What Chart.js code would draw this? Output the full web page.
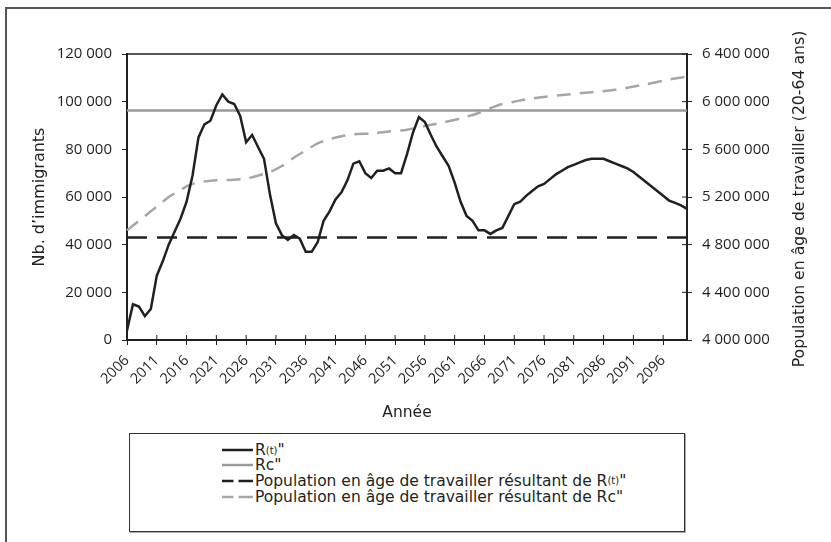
<!DOCTYPE html>
<html>
<head>
<meta charset="utf-8">
<script src="https://cdn.jsdelivr.net/npm/chart.js@4.4.1/dist/chart.umd.min.js"></script>
<style>
html, body { margin: 0; padding: 0; background: #fff; }
body { width: 831px; height: 542px; position: relative; overflow: hidden; font-family: "DejaVu Sans", sans-serif; color: #231f20; }
#frame { position: absolute; left: 5px; top: 7px; width: 840px; height: 560px; border-left: 2px solid #555; border-top: 2px solid #555; }
#wrap { position: absolute; left: 0; top: 0; width: 831px; height: 426px; }
#legend { position: absolute; left: 129px; top: 433px; width: 554px; height: 97px; border: 1.5px solid #333; box-shadow: 1px 1px 0 #aaa; background: #fff; }
.row { position: absolute; left: 92px; height: 16px; display: flex; align-items: center; font-size: 15.5px; white-space: nowrap; }
.row svg { margin-right: 2px; }
sub { font-size: 10px; vertical-align: -3px; }
</style>
</head>
<body>
<div id="frame"></div>
<div id="wrap"><canvas id="popChart"></canvas></div>
<div id="legend">
  <div class="row" style="top:8px"><svg width="31" height="4"><line x1="0" y1="2" x2="31" y2="2" stroke="#231f20" stroke-width="2.5"/></svg>R<sub>(t)</sub>"</div>
  <div class="row" style="top:23px"><svg width="31" height="4"><line x1="0" y1="2" x2="31" y2="2" stroke="#999" stroke-width="2.5"/></svg>Rc"</div>
  <div class="row" style="top:38.5px"><svg width="31" height="4"><line x1="0" y1="2" x2="11.5" y2="2" stroke="#231f20" stroke-width="2.5"/><line x1="16.5" y1="2" x2="31" y2="2" stroke="#231f20" stroke-width="2.5"/></svg>Population en âge de travailler résultant de R<sub>(t)</sub>"</div>
  <div class="row" style="top:55px"><svg width="31" height="4"><line x1="0" y1="2" x2="11.5" y2="2" stroke="#a6a6a6" stroke-width="2.5"/><line x1="16.5" y1="2" x2="31" y2="2" stroke="#a6a6a6" stroke-width="2.5"/></svg>Population en âge de travailler résultant de Rc"</div>
</div>
<script>
// years on the x axis (2006 - 2100)
var years = [];
for (var yr = 2006; yr <= 2100; yr++) years.push(String(yr));

// R(t)'' : immigrants needed each year (left axis)
var rtValues = [
  4000, 15000, 14000, 10000, 13000, 27000, 33000, 40000, 45500, 51000,
  58000, 69000, 85000, 90500, 92000, 98500, 103000, 100000, 99000, 94000,
  83000, 86000, 81000, 76000, 61000, 49000, 44000, 42000, 44000, 42500,
  37000, 37000, 41000, 50000, 54000, 59000, 62000, 67000, 74000, 75000,
  70000, 68000, 71000, 71000, 72000, 70000, 70000, 78000, 87000, 93500,
  91500, 86000, 81000, 77000, 73000, 66000, 58000, 52000, 50000, 46000,
  46000, 44500, 46000, 47000, 52000, 57000, 58000, 60500, 62500, 64500,
  65500, 67500, 69500, 71000, 72500, 73500, 74500, 75500, 76000, 76000,
  76000, 75000, 74000, 73000, 72000, 70500, 68500, 66500, 64500, 62500,
  60500, 58500, 57500, 56500, 55000
];

// Rc'' : constant level (left axis)
var rcLevel = 96300;

// working-age population resulting from R(t)'' : flat (right axis)
var popRtLevel = 4860000;

// working-age population resulting from Rc'' (right axis), read at these years
var popRcYears = ['2006','2007','2008','2009','2010','2011','2012','2013','2014','2015',
  '2016','2017','2018','2019','2021','2024','2026','2028','2030','2032',
  '2034','2036','2038','2040','2042','2044','2047','2050','2053','2056',
  '2059','2062','2065','2067','2069','2071','2073','2076','2080','2084',
  '2088','2092','2096','2098','2100'];
var popRcValues = [4920000, 4960000, 5000000, 5040000, 5080000, 5120000, 5160000, 5200000, 5230000, 5260000,
  5290000, 5310000, 5320000, 5330000, 5340000, 5345000, 5355000, 5380000, 5410000, 5460000,
  5530000, 5590000, 5650000, 5685000, 5710000, 5725000, 5735000, 5750000, 5765000, 5795000,
  5825000, 5860000, 5905000, 5945000, 5980000, 6000000, 6020000, 6040000, 6060000, 6080000,
  6100000, 6135000, 6175000, 6195000, 6210000];

var leftTicks = [0, 20000, 40000, 60000, 80000, 100000, 120000];
var rightTicks = [4000000, 4400000, 4800000, 5200000, 5600000, 6000000, 6400000];

function spaced(v) {
  return String(v).replace(/\B(?=(\d{3})+(?!\d))/g, ' ');
}

var tickFont = '"Open Sans", sans-serif';
var titleFont = '"DejaVu Sans", sans-serif';
Chart.defaults.font.family = tickFont;
Chart.defaults.color = '#231f20';

// top border of the plot, inner half of crossing ticks, right title
var frameLines = {
  id: 'frameLines',
  afterDraw: function (chart) {
    var ctx = chart.ctx, a = chart.chartArea, s = chart.scales;
    ctx.save();
    ctx.strokeStyle = '#231f20';
    ctx.lineWidth = 1.5;
    ctx.beginPath();
    ctx.moveTo(a.left, a.top);
    ctx.lineTo(a.right, a.top);
    ctx.stroke();
    ctx.lineWidth = 1;
    ctx.beginPath();
    s.x.ticks.forEach(function (t, i) {
      var px = s.x.getPixelForTick(i);
      ctx.moveTo(px, a.bottom);
      ctx.lineTo(px, a.bottom - 5);
    });
    s.y1.ticks.forEach(function (t, i) {
      var py = s.y1.getPixelForTick(i);
      ctx.moveTo(a.right, py);
      ctx.lineTo(a.right - 5, py);
    });
    ctx.stroke();
    // right axis title reads bottom to top
    ctx.translate(800, (a.top + a.bottom) / 2 + 2);
    ctx.rotate(-Math.PI / 2);
    ctx.fillStyle = '#231f20';
    ctx.font = '15.7px ' + titleFont;
    ctx.textAlign = 'center';
    ctx.textBaseline = 'middle';
    ctx.fillText('Population en âge de travailler (20-64 ans)', 0, 0);
    ctx.restore();
  }
};

var ctx = document.getElementById('popChart').getContext('2d');
var chart = new Chart(ctx, {
  type: 'line',
  data: {
    labels: years,
    datasets: [
      {
        label: "R(t)''",
        data: rtValues,
        yAxisID: 'y',
        borderColor: '#231f20',
        borderWidth: 2.5,
        pointRadius: 0,
        tension: 0
      },
      {
        label: "Rc''",
        data: [{ x: years[0], y: rcLevel }, { x: years[years.length - 1], y: rcLevel }],
        yAxisID: 'y',
        borderColor: '#999999',
        borderWidth: 2.5,
        pointRadius: 0
      },
      {
        label: "Population en âge de travailler résultant de R(t)''",
        data: [{ x: years[0], y: popRtLevel }, { x: years[years.length - 1], y: popRtLevel }],
        yAxisID: 'y1',
        borderColor: '#231f20',
        borderWidth: 2.5,
        borderDash: [20, 10],
        pointRadius: 0
      },
      {
        label: "Population en âge de travailler résultant de Rc''",
        data: popRcYears.map(function (y, i) { return { x: y, y: popRcValues[i] }; }),
        yAxisID: 'y1',
        borderColor: '#a6a6a6',
        borderWidth: 2.5,
        borderDash: [14, 9],
        pointRadius: 0,
        tension: 0.3
      }
    ]
  },
  options: {
    responsive: true,
    maintainAspectRatio: false,
    animation: false,
    layout: { padding: { top: 54, left: 0, right: 0, bottom: 0 } },
    plugins: {
      legend: { display: false },
      tooltip: { enabled: false }
    },
    scales: {
      x: {
        type: 'category',
        offset: false,
        afterBuildTicks: function (scale) {
          scale.ticks = scale.ticks.filter(function (t) { return t.value % 5 === 0; });
        },
        afterFit: function (scale) { scale.height = 86; },
        ticks: { autoSkip: false, minRotation: 45, maxRotation: 45, padding: 7, font: { size: 14.5 } },
        grid: { drawOnChartArea: false, tickLength: 5, color: '#231f20', lineWidth: 1 },
        border: { color: '#231f20', width: 2 },
        title: { display: true, text: 'Année', font: { size: 15.5, family: titleFont }, padding: { top: 0, bottom: 4 } }
      },
      y: {
        position: 'left',
        min: 0,
        max: 120000,
        afterBuildTicks: function (scale) {
          scale.ticks = leftTicks.map(function (v) { return { value: v }; });
        },
        afterFit: function (scale) { scale.width = 127; },
        ticks: { padding: 10, font: { size: 15 }, callback: function (v) { return spaced(v); } },
        grid: { drawOnChartArea: false, tickLength: 5, color: '#231f20', lineWidth: 1 },
        border: { color: '#231f20', width: 2 },
        title: { display: true, text: 'Nb. d’immigrants', font: { size: 16, family: titleFont }, padding: { top: 30.4, bottom: 0 } }
      },
      y1: {
        position: 'right',
        min: 4000000,
        max: 6400000,
        afterBuildTicks: function (scale) {
          scale.ticks = rightTicks.map(function (v) { return { value: v }; });
        },
        afterFit: function (scale) { scale.width = 144; },
        ticks: { padding: 10, font: { size: 15 }, callback: function (v) { return spaced(v); } },
        grid: { drawOnChartArea: false, tickLength: 5, color: '#231f20', lineWidth: 1 },
        border: { color: '#231f20', width: 2 }
      }
    }
  },
  plugins: [frameLines]
});
</script>
</body>
</html>
